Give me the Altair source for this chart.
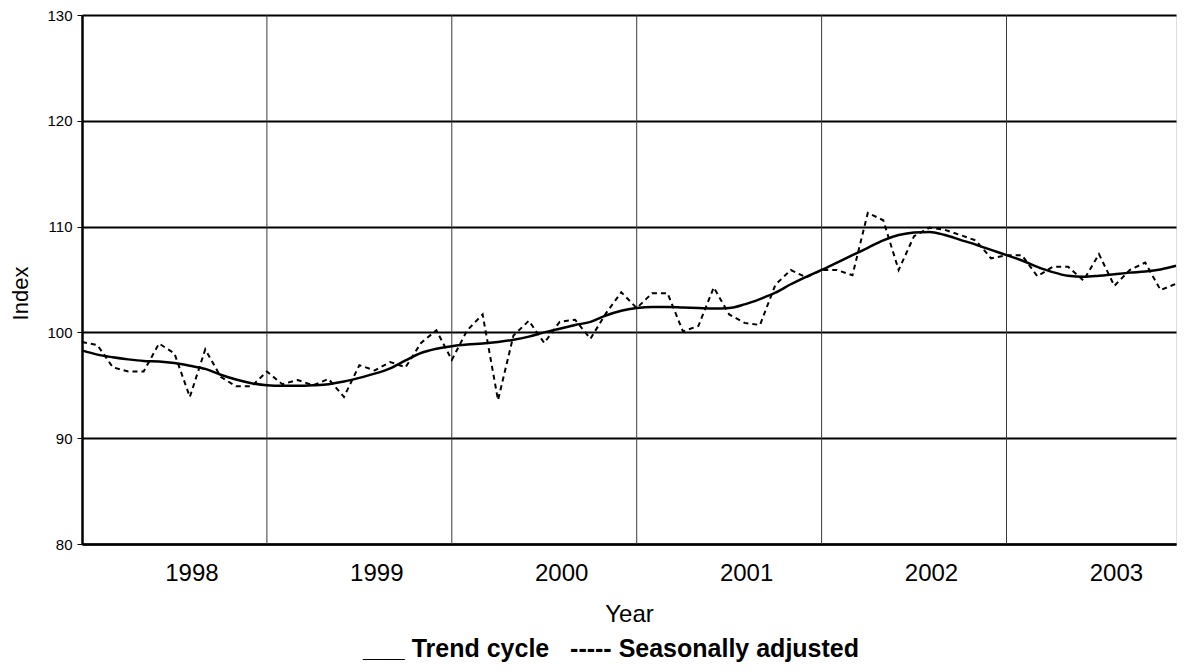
import altair as alt
import pandas as pd

FONT = "Liberation Sans, Arial, Helvetica, sans-serif"

# Monthly observations, index 0 = first month shown
months = list(range(72))

trend_cycle = [
    98.3, 97.9, 97.65, 97.45, 97.3, 97.25, 97.1, 96.85, 96.55, 96.0, 95.55, 95.2,
    95.0, 94.95, 94.95, 95.0, 95.1, 95.35, 95.7, 96.1, 96.6, 97.35, 98.05, 98.45,
    98.7, 98.85, 98.95, 99.1, 99.3, 99.6, 100.0, 100.35, 100.7, 101.0, 101.6, 102.05,
    102.3, 102.4, 102.4, 102.35, 102.3, 102.25, 102.3, 102.65, 103.15, 103.75, 104.55, 105.25,
    105.9, 106.6, 107.3, 108.0, 108.7, 109.2, 109.45, 109.5, 109.2, 108.75, 108.3, 107.8,
    107.3, 106.8, 106.2, 105.7, 105.35, 105.25, 105.35, 105.5, 105.65, 105.75, 105.95, 106.3,
]

seasonally_adjusted = [
    99.1, 98.8, 96.7, 96.3, 96.3, 98.95, 98.0, 93.9, 98.4, 95.8, 94.9, 94.9,
    96.3, 95.1, 95.5, 95.0, 95.6, 93.9, 96.9, 96.4, 97.2, 96.7, 99.0, 100.2,
    97.4, 100.2, 101.7, 93.6, 99.7, 101.1, 99.0, 101.0, 101.2, 99.4, 101.8, 103.8,
    102.3, 103.7, 103.7, 100.1, 100.6, 104.25, 101.7, 100.9, 100.7, 104.5, 105.9, 105.2,
    105.9, 105.9, 105.4, 111.3, 110.6, 105.9, 109.1, 109.9, 109.7, 109.2, 108.7, 107.0,
    107.3, 107.3, 105.3, 106.2, 106.2, 104.9, 107.4, 104.4, 105.9, 106.6, 104.0, 104.6,
]

year_labels = ["1998", "1999", "2000", "2001", "2002", "2003"]
year_label_month = [7.1, 19.1, 31.1, 43.1, 55.1, 67.1]   # where each year label sits
year_boundaries = [12, 24, 36, 48, 60]                     # vertical gridlines
y_ticks = [80, 90, 100, 110, 120, 130]

df = pd.DataFrame({"m": months, "trend": trend_cycle, "sa": seasonally_adjusted})
bounds = pd.DataFrame({"b": year_boundaries})

label_lookup = "{" + ",".join(f"'{p}':'{y}'" for p, y in zip(year_label_month, year_labels)) + "}"

x_scale = alt.Scale(domain=[0, 71], nice=False, zero=False)
y_scale = alt.Scale(domain=[80, 130], nice=False, zero=False)

x_axis = alt.Axis(
    values=year_label_month,
    labelExpr=f"{label_lookup}[toString(datum.value)]",
    grid=False, ticks=False,
    domain=True, domainColor="black", domainWidth=2.5,
    labelFont=FONT, labelFontSize=24, labelColor="black", labelPadding=17,
    labelFlush=False, labelOverlap=False,
    title="Year", titleFont=FONT, titleFontSize=24, titleFontWeight="normal",
    titleColor="black", titlePadding=17,
)

y_axis = alt.Axis(
    values=y_ticks,
    grid=True, gridColor="black", gridWidth=2, gridOpacity=1,
    ticks=True, tickColor="black", tickSize=5, tickWidth=1,
    domain=True, domainColor="black", domainWidth=2.5,
    labelFont=FONT, labelFontSize=15, labelColor="black", labelPadding=5,
    title="Index", titleFont=FONT, titleFontSize=22, titleFontWeight="normal",
    titleColor="black", titleAngle=270, titleAlign="center",
    titleBaseline="alphabetic", titleX=-55, titleY=278,
)

base = alt.Chart(df)

rules = alt.Chart(bounds).mark_rule(color="#3a3a3a", strokeWidth=1).encode(
    x=alt.X("b:Q", scale=x_scale, axis=x_axis)
)

sa_line = base.mark_line(color="black", strokeWidth=2, strokeDash=[5, 4]).encode(
    x=alt.X("m:Q", scale=x_scale, axis=x_axis),
    y=alt.Y("sa:Q", scale=y_scale, axis=y_axis),
)

trend_line = base.mark_line(color="black", strokeWidth=2.5, interpolate="monotone").encode(
    x=alt.X("m:Q", scale=x_scale, axis=x_axis),
    y=alt.Y("trend:Q", scale=y_scale, axis=y_axis),
)

chart = (
    alt.layer(rules, sa_line, trend_line)
    .properties(
        width=1094,
        height=529,
        autosize=alt.AutoSizeParams(type="none"),
        padding={"left": 74, "top": 7, "right": 2, "bottom": 119},
        title=alt.TitleParams(
            "___ Trend cycle\u00a0\u00a0\u00a0----- Seasonally adjusted",
            orient="bottom", anchor="middle", fontSize=25, fontWeight="bold",
            font=FONT, color="black", offset=11, dx=-18,
        ),
    )
    .configure_view(stroke="black", strokeWidth=2.5)
    .configure(background="white")
)

chart.save("out.html", embed_options={"renderer": "svg", "actions": False})
